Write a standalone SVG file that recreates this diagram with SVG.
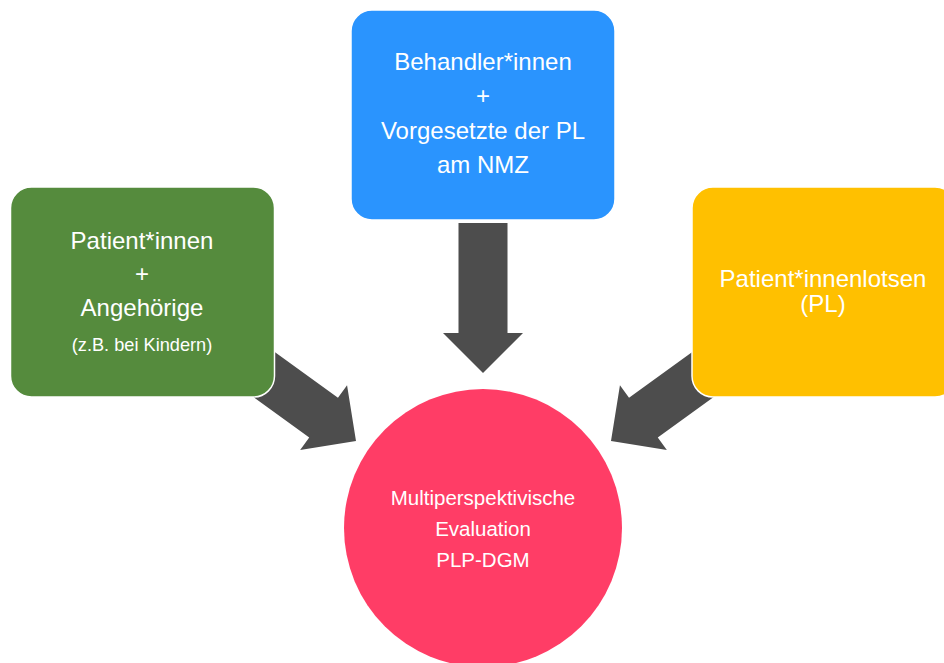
<svg xmlns="http://www.w3.org/2000/svg" width="944" height="663" viewBox="0 0 944 663">
<defs>
<style>
.box{stroke:#ffffff;stroke-width:1.5}
.arrow{fill:#4d4d4d}
text{font-family:"Liberation Sans",Arial,sans-serif;fill:#ffffff;text-anchor:middle}
.big{font-size:24px}
.mid{font-size:20.5px}
.small{font-size:18.2px}
</style>
<polygon id="arrowShape" points="-150,-24.5 -40,-24.5 -40,-40 0,0 -40,40 -40,24.5 -150,24.5"/>
</defs>
<rect width="944" height="663" fill="#ffffff"/>
<g id="connectors">
<use href="#arrowShape" class="arrow" transform="translate(483,373) rotate(90)"/>
<use href="#arrowShape" class="arrow" transform="translate(356,441) rotate(35.9)"/>
<use href="#arrowShape" class="arrow" transform="translate(611,441) rotate(144.1)"/>
</g>
<g id="patients">
<rect class="box" x="10.5" y="187" width="264" height="210" rx="21" fill="#558b3d"/>
<text class="big" x="142" y="249">Patient*innen</text>
<text class="big" x="142" y="282">+</text>
<text class="big" x="142" y="316">Angehörige</text>
<text class="small" x="142" y="351">(z.B. bei Kindern)</text>
</g>
<g id="behandler">
<rect class="box" x="351" y="10" width="264" height="210" rx="21" fill="#2a94fe"/>
<text class="big" x="483" y="70">Behandler*innen</text>
<text class="big" x="483" y="104">+</text>
<text class="big" x="483" y="139">Vorgesetzte der PL</text>
<text class="big" x="483" y="173">am NMZ</text>
</g>
<g id="lotsen">
<rect class="box" x="692" y="187" width="264" height="210" rx="21" fill="#ffc000"/>
<text class="big" x="823" y="287">Patient*innenlotsen</text>
<text class="big" x="823" y="312">(PL)</text>
</g>
<g id="evaluation">
<circle cx="483" cy="528" r="139" fill="#ff3d66"/>
<text class="mid" x="483" y="505">Multiperspektivische</text>
<text class="mid" x="483" y="536">Evaluation</text>
<text class="mid" x="483" y="567">PLP-DGM</text>
</g>
</svg>
